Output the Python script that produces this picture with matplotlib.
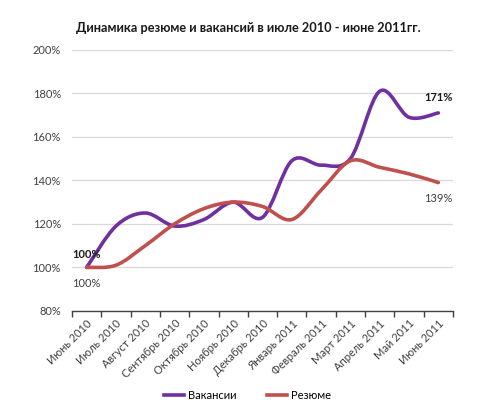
import numpy as np
import matplotlib
matplotlib.use("Agg")
import matplotlib.pyplot as plt
from matplotlib.path import Path
from matplotlib.patches import PathPatch
from matplotlib.lines import Line2D

plt.rcParams['font.family'] = ['Lato', 'DejaVu Sans']

months = ['Июнь 2010', 'Июль 2010', 'Август 2010', 'Сентябрь 2010', 'Октябрь 2010',
          'Ноябрь 2010', 'Декабрь 2010', 'Январь 2011', 'Февраль 2011', 'Март 2011',
          'Апрель 2011', 'Май 2011', 'Июнь 2011']
vacancies = [100, 119, 125, 119, 122, 130, 123, 149, 147, 150, 181, 169, 171]
resumes = [100, 101, 110, 120, 127, 130, 128, 122, 135.5, 149, 146, 143, 139]
y_ticks = [80, 100, 120, 140, 160, 180, 200]

purple = '#7030A0'
red = '#C0504D'


def smooth_path(xs, ys, k=1/6):
    # bezier curve through points, like excel smoothed line
    pts = np.column_stack([xs, ys]).astype(float)
    verts = [pts[0]]
    codes = [Path.MOVETO]
    n = len(pts)
    for i in range(n - 1):
        p0 = pts[i - 1] if i > 0 else pts[i]
        p1 = pts[i]
        p2 = pts[i + 1]
        p3 = pts[i + 2] if i + 2 < n else pts[i + 1]
        c1 = p1 + (p2 - p0) * k
        c2 = p2 - (p3 - p1) * k
        verts += [c1, c2, p2]
        codes += [Path.CURVE4] * 3
    return Path(verts, codes)


fig = plt.figure(figsize=(5, 4.19), dpi=100)
ax = fig.add_axes([0.144, 0.258, 0.762, 0.623])

x = np.arange(len(months))
for vals, col, z in [(resumes, red, 3), (vacancies, purple, 2)]:
    ax.add_patch(PathPatch(smooth_path(x, vals), facecolor='none', edgecolor=col,
                           lw=2.6, capstyle='round', joinstyle='round', zorder=z))

ax.set_xlim(-0.5, len(months) - 0.5)
ax.set_ylim(80, 200)
ax.set_yticks(y_ticks)
ax.set_yticklabels([f'{v}%' for v in y_ticks], fontsize=8, color='#404040')
ax.grid(axis='y', color='#d9d9d9', lw=0.9)
ax.set_axisbelow(True)
for s in ['left', 'right', 'top']:
    ax.spines[s].set_visible(False)
ax.spines['bottom'].set_color('#404040')
ax.spines['bottom'].set_linewidth(1.0)
ax.tick_params(axis='y', length=0, pad=8)

ax.set_xticks(x)
ax.set_xticklabels(months, rotation=45, ha='right', rotation_mode='anchor',
                   fontsize=8, color='#404040')
ax.tick_params(axis='x', which='major', length=0, pad=5)
ax.set_xticks(np.arange(len(months) + 1) - 0.5, minor=True)
ax.tick_params(axis='x', which='minor', length=4, direction='out', color='#404040', width=1)

# data labels
ax.text(x[0], vacancies[0] + 6, f'{vacancies[0]}%', ha='center', va='center',
        fontsize=8, fontweight='bold', color='#1a1a1a')
ax.text(x[0], resumes[0] - 7.4, f'{resumes[0]}%', ha='center', va='center',
        fontsize=8, color='#404040')
ax.text(x[-1], vacancies[-1] + 7, f'{vacancies[-1]}%', ha='center', va='center',
        fontsize=8, fontweight='bold', color='#1a1a1a')
ax.text(x[-1], resumes[-1] - 7.5, f'{resumes[-1]}%', ha='center', va='center',
        fontsize=8, color='#404040')

fig.text(0.496, 0.933, 'Динамика резюме и вакансий в июле 2010 - июне 2011гг.',
         ha='center', va='center', fontsize=9.2, fontweight='bold', color='#1a1a1a')

handles = [Line2D([], [], color=purple, lw=2.6), Line2D([], [], color=red, lw=2.6)]
fig.legend(handles, ['Вакансии', 'Резюме'], loc='center', bbox_to_anchor=(0.495, 0.057),
           ncol=2, frameon=False, fontsize=8, handlelength=1.8, handletextpad=0.3,
           columnspacing=2.8)

fig.savefig('out.png', dpi=100)
